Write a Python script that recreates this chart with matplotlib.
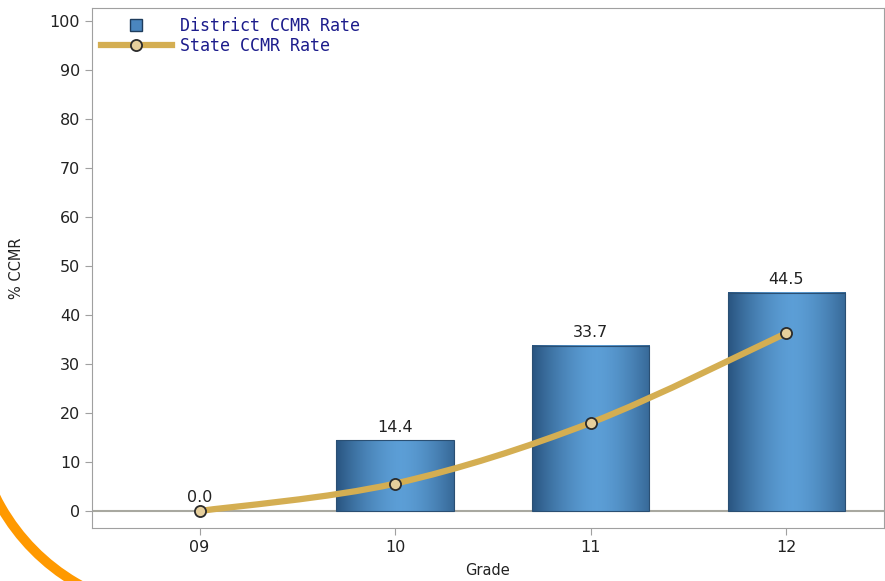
import matplotlib
matplotlib.use("Agg")
import matplotlib.pyplot as plt
import numpy as np
from matplotlib.lines import Line2D
from matplotlib.patches import Arc, Rectangle
from matplotlib.path import Path
from matplotlib.patches import PathPatch

grades = ["09", "10", "11", "12"]
district = [0.0, 14.4, 33.7, 44.5]
state = [0.0, 5.6, 18.0, 36.3]

line_col = "#d4ae52"
bar_dark = np.array([0.16, 0.33, 0.50])
bar_light = np.array([0.36, 0.62, 0.84])

fig = plt.figure(figsize=(8.85, 5.81), dpi=100)
ax = fig.add_axes([92 / 885, 1 - 528 / 581, 792 / 885, 520 / 581])

x = np.arange(len(grades))
width = 0.6

# gradient across each bar: dark edges, light middle
t = np.linspace(0, 1, 200)
prof = np.clip(1 - np.abs((t - 0.55) / 0.55) ** 1.6, 0, 1)
grad = bar_dark[None, :] + (bar_light - bar_dark)[None, :] * prof[:, None]
grad = grad[None, :, :]

for xi, v in zip(x, district):
    if v > 0:
        ax.imshow(grad, extent=[xi - width / 2, xi + width / 2, 0, v],
                  aspect="auto", zorder=2, interpolation="bilinear")
        ax.add_patch(Rectangle((xi - width / 2, 0), width, v, fill=False,
                               edgecolor="#2a4f73", lw=0.8, zorder=3))
    ax.text(xi, v + 1.2, f"{v:.1f}", ha="center", va="bottom",
            fontsize=11.5, color="#222222", zorder=5)

ax.axhline(0, color="#a8a8a0", lw=1.5, zorder=1)

# smooth line through the state points (Catmull-Rom as Bezier)
pts = np.column_stack([x, state]).astype(float)
verts = [tuple(pts[0])]
codes = [Path.MOVETO]
for i in range(len(pts) - 1):
    p0 = pts[i - 1] if i > 0 else pts[i]
    p1, p2 = pts[i], pts[i + 1]
    p3 = pts[i + 2] if i + 2 < len(pts) else pts[i + 1]
    c1 = p1 + (p2 - p0) / 6
    c2 = p2 - (p3 - p1) / 6
    verts += [tuple(c1), tuple(c2), tuple(p2)]
    codes += [Path.CURVE4] * 3
ax.add_patch(PathPatch(Path(verts, codes), fill=False, edgecolor=line_col,
                       lw=4.5, capstyle="round", zorder=4))
ax.plot(x, state, "o", ms=8, mfc="#e6cf9c", mec="#2b2b2b", mew=1.3, zorder=6)

ax.set_xlim(-0.55, 3.5)
ax.set_ylim(-3.47, 102.65)
ax.set_xticks(x)
ax.set_xticklabels(grades)
ax.set_yticks(range(0, 101, 10))
ax.tick_params(colors="#a0a0a0", labelcolor="#222222", labelsize=11.5, length=5)
for s in ax.spines.values():
    s.set_color("#a0a0a0")
ax.set_xlabel("Grade", fontsize=10.5, color="#222222")
ax.set_ylabel("% CCMR", fontsize=10.5, color="#222222")
ax.xaxis.set_label_coords(0.5, -0.068)
ax.yaxis.set_label_coords(-0.086, 0.5)

handles = [
    Line2D([], [], ls="none", marker="s", ms=8, mfc="#4a86bf", mec="#1e3c5c"),
    Line2D([], [], color=line_col, lw=4.5, marker="o", ms=8,
           mfc="#e6cf9c", mec="#2b2b2b", mew=1.3),
]
leg = ax.legend(handles, ["District CCMR Rate", "State CCMR Rate"],
                loc="upper left", bbox_to_anchor=(-0.008, 1.012), frameon=False,
                handlelength=4.3, handletextpad=0.45, labelspacing=0.12,
                prop={"family": "DejaVu Sans Mono", "size": 12})
for txt in leg.get_texts():
    txt.set_color("#1c1c8c")

# orange decorative arc in the lower-left corner
arc = Arc((180 / 885, 1 - 405 / 581), 2 * 206 / 885, 2 * 206 / 581,
          theta1=180, theta2=290, color="#ff9900", lw=7,
          transform=fig.transFigure, clip_on=False)
fig.add_artist(arc)

fig.savefig("out.png", dpi=100)
